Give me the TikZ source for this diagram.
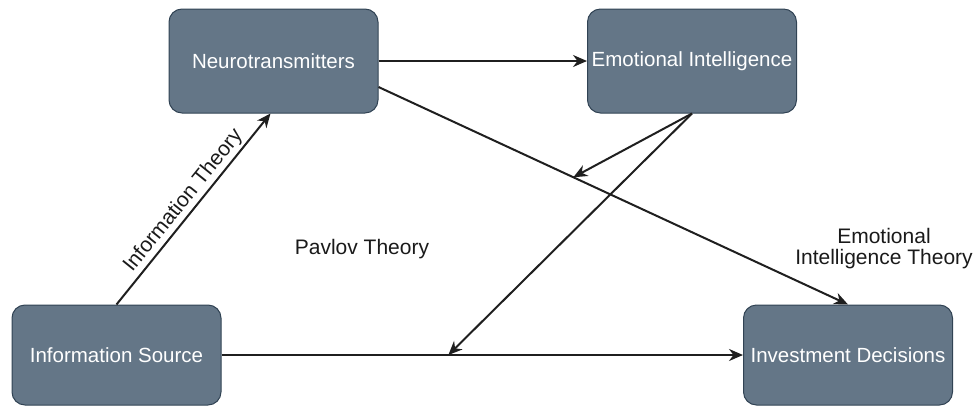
\documentclass[tikz,border=0pt]{standalone}
\usepackage{fontspec}
\setmainfont{Liberation Sans}
\usetikzlibrary{arrows.meta,calc}
\definecolor{boxfill}{HTML}{647687}
\definecolor{boxline}{HTML}{314354}
\definecolor{labeltext}{HTML}{1A1A1A}
\begin{document}
\begin{tikzpicture}[x=1pt,y=-1pt,
  box/.style={draw=boxline, line width=1pt, fill=boxfill, rounded corners=13pt,
    minimum width=209pt, minimum height=104pt, text=white,
    font=\fontsize{20.5}{24}\selectfont, inner sep=0pt},
  conn/.style={line width=2pt, draw=black!88, -{Stealth[length=14pt,width=12pt]}},
  lbl/.style={text=labeltext, font=\fontsize{21}{21}\selectfont}]
\useasboundingbox (0,0) rectangle (978,407);
\node[box] (neuro) at (273.5,61) {Neurotransmitters};
\node[box] (ei) at (692,61) {Emotional Intelligence};
\node[box, minimum height=100pt] (src) at (116.5,355) {Information Source};
\node[box, minimum height=100pt] (inv) at (848,355) {Investment Decisions};
\coordinate (n1) at ($(neuro.east)+(0,26)$);
\coordinate (hit1) at ($(n1)!0.415!(inv.north)$);
\coordinate (hit2) at ($(src.east)!0.435!(inv.west)$);
\draw[conn] (neuro.east) -- (ei.west);
\draw[conn] (src.north) -- node[lbl, sloped, above, inner sep=2pt] (itlabel) {Information Theory} ($(neuro.south)+(-3,0)$);
\draw[conn] (n1) -- (inv.north);
\draw[conn] (ei.south) -- (hit1);
\draw[conn] (ei.south) -- (hit2);
\draw[conn] (src.east) -- (inv.west);
\node[lbl] (pavlov) at (362,249) {Pavlov Theory};
\node[lbl, align=center] (eit) at (884,249) {Emotional\\Intelligence Theory};
\end{tikzpicture}
\end{document}
